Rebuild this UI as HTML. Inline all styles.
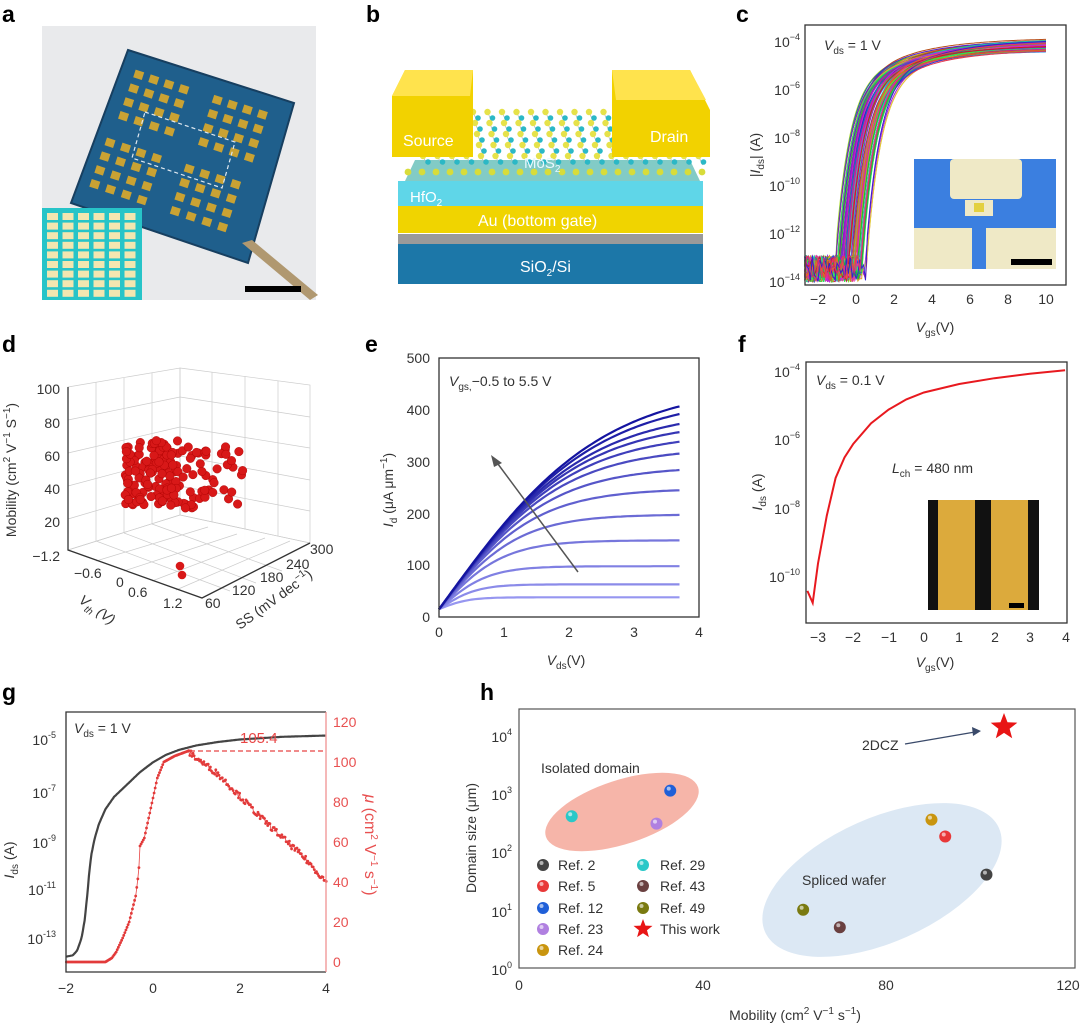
<!DOCTYPE html>
<html><head><meta charset="utf-8"><style>
body{margin:0;background:#fff}
svg{display:block;font-family:"Liberation Sans",Arial,sans-serif}
.t{font-size:14px;fill:#333}
.L{font-size:23px;font-weight:bold;fill:#000}
.ax{stroke:#333;stroke-width:1.3;fill:none}
</style></head><body>
<svg id="s" width="1080" height="1025" viewBox="0 0 1080 1025" xmlns="http://www.w3.org/2000/svg">
<text class="L" x="2" y="22">a</text><text class="L" x="366" y="22">b</text><text class="L" x="736" y="22">c</text>
<text class="L" x="2" y="352">d</text><text class="L" x="365" y="352">e</text><text class="L" x="738" y="352">f</text>
<text class="L" x="2" y="700">g</text><text class="L" x="480" y="700">h</text>

<!-- panel a -->
<rect x="42" y="26" width="274" height="274" fill="#e9eaec"/>
<polygon points="128,50 294,103 248,263 71,203" fill="#1f5f8c"/>
<polygon points="128,50 294,103 248,263 71,203" fill="none" stroke="#173f60" stroke-width="2"/>
<g id="apads" fill="#c9a233"></g>
<polygon points="145,112 235,142 222,188 132,158" fill="none" stroke="#dfe8f0" stroke-width="1.2" stroke-dasharray="4,3"/>
<polygon points="242,243 252,240 318,295 310,300" fill="#b09870"/>
<rect x="42" y="208" width="100" height="92" fill="#27c4c8"/>
<g id="ainset" fill="#f3e6b0"></g>
<rect x="245" y="286" width="56" height="6" fill="#000"/>

<!-- panel b -->
<rect x="398" y="244" width="305" height="40" fill="#1c77a8"/>
<rect x="398" y="234" width="305" height="10" fill="#9a9a9a"/>
<rect x="398" y="206" width="305" height="27" fill="#f0d400"/>
<rect x="398" y="181" width="305" height="25" fill="#5fd6e8"/>
<polygon points="405,181 700,181 690,160 415,160" fill="#2fa8a0" opacity="0.6"/>
<g id="bdots"></g>
<polygon points="392,96 405,70 473,70 473,157 392,157" fill="#f2d200"/>
<polygon points="392,96 405,70 473,70 470,96" fill="#ffe34d"/>
<polygon points="612,70 690,70 710,110 710,157 612,157" fill="#f2d200"/>
<polygon points="612,70 690,70 706,100 616,100" fill="#ffe34d"/>
<text x="403" y="146" font-size="16" fill="#fff">Source</text>
<text x="650" y="142" font-size="16" fill="#fff">Drain</text>
<text x="524" y="168" font-size="15" fill="#e8f8ff">MoS<tspan font-size="10" dy="4">2</tspan></text>
<text x="410" y="202" font-size="15" fill="#fff">HfO<tspan font-size="10" dy="4">2</tspan></text>
<text x="478" y="226" font-size="16" fill="#fff">Au (bottom gate)</text>
<text x="520" y="272" font-size="16" fill="#fff">SiO<tspan font-size="10" dy="4">2</tspan><tspan dy="-4">/Si</tspan></text>

<!-- panel c -->
<g id="cc"></g>
<rect x="805" y="25" width="261" height="260" class="ax"/>
<g class="t" text-anchor="end" font-size="13">
<text x="800" y="47">10<tspan font-size="9" dy="-7">−4</tspan></text>
<text x="800" y="95">10<tspan font-size="9" dy="-7">−6</tspan></text>
<text x="800" y="143">10<tspan font-size="9" dy="-7">−8</tspan></text>
<text x="800" y="191">10<tspan font-size="9" dy="-7">−10</tspan></text>
<text x="800" y="239">10<tspan font-size="9" dy="-7">−12</tspan></text>
<text x="800" y="287">10<tspan font-size="9" dy="-7">−14</tspan></text>
</g>
<g class="t" text-anchor="middle">
<text x="818" y="304">−2</text><text x="856" y="304">0</text><text x="894" y="304">2</text><text x="932" y="304">4</text><text x="970" y="304">6</text><text x="1008" y="304">8</text><text x="1046" y="304">10</text>
</g>
<text class="t" x="935" y="332" text-anchor="middle" font-size="15"><tspan font-style="italic">V</tspan><tspan font-size="10" dy="4">gs</tspan><tspan dy="-4">(V)</tspan></text>
<text class="t" transform="translate(760,155) rotate(-90)" text-anchor="middle" font-size="15">|<tspan font-style="italic">I</tspan><tspan font-size="10" dy="4">ds</tspan><tspan dy="-4">| (A)</tspan></text>
<text class="t" x="824" y="50" font-size="15"><tspan font-style="italic">V</tspan><tspan font-size="10" dy="4">ds</tspan><tspan dy="-4"> = 1 V</tspan></text>
<rect x="914" y="159" width="142" height="110" fill="#3b7fe0"/>
<rect x="914" y="228" width="142" height="41" fill="#efe9c6"/>
<rect x="950" y="159" width="72" height="40" rx="4" fill="#efe9c6"/>
<rect x="965" y="200" width="28" height="16" fill="#efe9c6"/>
<rect x="974" y="203" width="10" height="9" fill="#e3d040"/>
<rect x="972" y="216" width="14" height="53" fill="#3b7fe0"/>
<rect x="1011" y="259" width="41" height="6" fill="#000"/>

<!-- panel d -->
<g stroke="#ccc" stroke-width="0.7" fill="none">
<polygon points="68,387 180,368 180,515 68,550"/><polygon points="180,368 310,385 310,543 180,515"/><polygon points="68,550 180,515 310,543 202,598"/>
<path d="M68,420 L180,397 L310,417 M68,453 L180,427 L310,448 M68,486 L180,456 L310,480 M68,519 L180,486 L310,511 M96,382 L96,541 M124,378 L124,533 M152,373 L152,524 M212,372 L212,522 M245,376 L245,529 M278,381 L278,536 M96,541 L230,591 M124,533 L256,583 M152,524 L282,571 M96,561 L208,527 M124,571 L237,534 M152,581 L265,538 M176,590 L290,541"/>
</g>
<path d="M68,387 L68,550 L202,598 L310,543" class="ax" stroke-width="1"/>
<g id="dd"></g>
<g class="t" text-anchor="end">
<text x="60" y="394">100</text><text x="60" y="428">80</text><text x="60" y="461">60</text><text x="60" y="494">40</text><text x="60" y="527">20</text><text x="60" y="561">−1.2</text>
</g>
<g class="t">
<text x="74" y="578">−0.6</text><text x="116" y="587">0</text><text x="128" y="597">0.6</text><text x="163" y="608">1.2</text>
<text x="205" y="608">60</text><text x="232" y="595">120</text><text x="260" y="582">180</text><text x="286" y="569">240</text><text x="310" y="554">300</text>
</g>
<text class="t" font-size="16" transform="translate(78,602) rotate(35)"><tspan font-style="italic">V</tspan><tspan font-size="10" font-style="italic" dy="4">th</tspan><tspan dy="-4" font-style="italic"> (V)</tspan></text>
<text class="t" font-size="16" transform="translate(240,630) rotate(-36)">SS (mV dec<tspan font-size="10" dy="-6">−1</tspan><tspan dy="6">)</tspan></text>
<text class="t" font-size="16" transform="translate(16,470) rotate(-90)" text-anchor="middle">Mobility (cm<tspan font-size="10" dy="-6">2</tspan><tspan dy="6"> V</tspan><tspan font-size="10" dy="-6">−1</tspan><tspan dy="6"> S</tspan><tspan font-size="10" dy="-6">−1</tspan><tspan dy="6">)</tspan></text>

<!-- panel e -->
<g id="ee"></g>
<rect x="439" y="358" width="260" height="259" class="ax"/>
<g class="t" text-anchor="end">
<text x="430" y="363">500</text><text x="430" y="415">400</text><text x="430" y="467">300</text><text x="430" y="519">200</text><text x="430" y="570">100</text><text x="430" y="622">0</text>
</g>
<g class="t" text-anchor="middle">
<text x="439" y="637">0</text><text x="504" y="637">1</text><text x="569" y="637">2</text><text x="634" y="637">3</text><text x="699" y="637">4</text>
</g>
<text class="t" x="566" y="665" text-anchor="middle" font-size="15"><tspan font-style="italic">V</tspan><tspan font-size="10" dy="4">ds</tspan><tspan dy="-4">(V)</tspan></text>
<text class="t" transform="translate(393,490) rotate(-90)" text-anchor="middle" font-size="15"><tspan font-style="italic">I</tspan><tspan font-size="10" dy="4">d</tspan><tspan dy="-4"> (μA μm</tspan><tspan font-size="10" dy="-6">−1</tspan><tspan dy="6">)</tspan></text>
<text class="t" x="449" y="386" font-size="15"><tspan font-style="italic">V</tspan><tspan font-size="10" dy="4">gs,</tspan><tspan dy="-4">−0.5 to 5.5 V</tspan></text>
<line x1="578" y1="572" x2="495" y2="460" stroke="#555" stroke-width="1.5"/>
<polygon points="491,455 502,463 494,467" fill="#555"/>

<!-- panel f -->
<path id="ff" fill="none" stroke="#e8191f" stroke-width="2"/>
<rect x="806" y="362" width="261" height="261" class="ax"/>
<g class="t" text-anchor="end" font-size="13">
<text x="800" y="377">10<tspan font-size="9" dy="-7">−4</tspan></text>
<text x="800" y="445">10<tspan font-size="9" dy="-7">−6</tspan></text>
<text x="800" y="514">10<tspan font-size="9" dy="-7">−8</tspan></text>
<text x="800" y="582">10<tspan font-size="9" dy="-7">−10</tspan></text>
</g>
<g class="t" text-anchor="middle">
<text x="818" y="642">−3</text><text x="853" y="642">−2</text><text x="889" y="642">−1</text><text x="924" y="642">0</text><text x="959" y="642">1</text><text x="995" y="642">2</text><text x="1030" y="642">3</text><text x="1066" y="642">4</text>
</g>
<text class="t" x="935" y="667" text-anchor="middle" font-size="15"><tspan font-style="italic">V</tspan><tspan font-size="10" dy="4">gs</tspan><tspan dy="-4">(V)</tspan></text>
<text class="t" transform="translate(762,492) rotate(-90)" text-anchor="middle" font-size="15"><tspan font-style="italic">I</tspan><tspan font-size="10" dy="4">ds</tspan><tspan dy="-4"> (A)</tspan></text>
<text class="t" x="816" y="385" font-size="15"><tspan font-style="italic">V</tspan><tspan font-size="10" dy="4">ds</tspan><tspan dy="-4"> = 0.1 V</tspan></text>
<text class="t" x="892" y="473" font-size="15"><tspan font-style="italic">L</tspan><tspan font-size="10" dy="4">ch</tspan><tspan dy="-4"> = 480 nm</tspan></text>
<rect x="928" y="500" width="111" height="110" fill="#111"/>
<rect x="938" y="500" width="37" height="110" fill="#dcaa3c"/>
<rect x="991" y="500" width="37" height="110" fill="#dcaa3c"/>
<rect x="1009" y="603" width="15" height="5" fill="#000"/>

<!-- panel g -->
<path id="gk" fill="none" stroke="#444" stroke-width="2.2"/>
<path id="gr" fill="none" stroke="#e84545" stroke-width="0.8"/>
<g id="grd" fill="#e23a3a"></g>
<line x1="190" y1="751" x2="326" y2="751" stroke="#e84545" stroke-width="1.3" stroke-dasharray="5,3"/>
<text x="240" y="743" font-size="15" fill="#e84545">105.4</text>
<path d="M326,712 L66,712 L66,972 L326,972" class="ax"/>
<line x1="326" y1="712" x2="326" y2="972" stroke="#e88" stroke-width="1.2"/>
<g class="t" text-anchor="end">
<text x="56" y="745">10<tspan font-size="9" dy="-7">-5</tspan></text>
<text x="56" y="798">10<tspan font-size="9" dy="-7">-7</tspan></text>
<text x="56" y="848">10<tspan font-size="9" dy="-7">-9</tspan></text>
<text x="56" y="895">10<tspan font-size="9" dy="-7">-11</tspan></text>
<text x="56" y="944">10<tspan font-size="9" dy="-7">-13</tspan></text>
</g>
<g font-size="14">
<text x="333" y="727" fill="#e85050">120</text><text x="333" y="767" fill="#e85050">100</text><text x="333" y="807" fill="#e85050">80</text><text x="333" y="847" fill="#e85050">60</text><text x="333" y="887" fill="#e85050">40</text><text x="333" y="927" fill="#e85050">20</text><text x="333" y="967" fill="#e85050">0</text>
</g>
<g class="t" text-anchor="middle">
<text x="66" y="993">−2</text><text x="153" y="993">0</text><text x="240" y="993">2</text><text x="326" y="993">4</text>
</g>
<text class="t" transform="translate(14,860) rotate(-90)" text-anchor="middle" font-size="15"><tspan font-style="italic">I</tspan><tspan font-size="10" dy="4">ds</tspan><tspan dy="-4"> (A)</tspan></text>
<text transform="translate(365,845) rotate(90)" text-anchor="middle" font-size="16" fill="#e85050"><tspan font-style="italic">μ</tspan> (cm<tspan font-size="10" dy="-6">2</tspan><tspan dy="6"> V</tspan><tspan font-size="10" dy="-6">−1</tspan><tspan dy="6"> s</tspan><tspan font-size="10" dy="-6">−1</tspan><tspan dy="6">)</tspan></text>
<text class="t" x="74" y="733" font-size="15"><tspan font-style="italic">V</tspan><tspan font-size="10" dy="4">ds</tspan><tspan dy="-4"> = 1 V</tspan></text>

<!-- panel h -->
<ellipse cx="622" cy="812" rx="80" ry="32" transform="rotate(-18 622 812)" fill="#f4a89a" opacity="0.85"/>
<ellipse cx="882" cy="880" rx="128" ry="62" transform="rotate(-24 882 880)" fill="#dce8f4"/>
<rect x="519" y="709" width="556" height="259" fill="none" stroke="#555" stroke-width="1.2"/>
<g id="hh"></g>
<g class="t" text-anchor="end">
<text x="512" y="742">10<tspan font-size="9" dy="-7">4</tspan></text>
<text x="512" y="800">10<tspan font-size="9" dy="-7">3</tspan></text>
<text x="512" y="858">10<tspan font-size="9" dy="-7">2</tspan></text>
<text x="512" y="917">10<tspan font-size="9" dy="-7">1</tspan></text>
<text x="512" y="975">10<tspan font-size="9" dy="-7">0</tspan></text>
</g>
<g class="t" text-anchor="middle">
<text x="519" y="990">0</text><text x="703" y="990">40</text><text x="886" y="990">80</text><text x="1068" y="990">120</text>
</g>
<text class="t" x="795" y="1020" text-anchor="middle" font-size="15">Mobility (cm<tspan font-size="10" dy="-6">2</tspan><tspan dy="6"> V</tspan><tspan font-size="10" dy="-6">−1</tspan><tspan dy="6"> s</tspan><tspan font-size="10" dy="-6">−1</tspan><tspan dy="6">)</tspan></text>
<text class="t" transform="translate(476,838) rotate(-90)" text-anchor="middle" font-size="15">Domain size (μm)</text>
<text class="t" x="541" y="773" font-size="15">Isolated domain</text>
<text class="t" x="802" y="885" font-size="15">Spliced wafer</text>
<text class="t" x="862" y="750" font-size="15">2DCZ</text>
<line x1="905" y1="744" x2="975" y2="732" stroke="#3a4a6a" stroke-width="1.3"/>
<polygon points="981,731 972,727 973,736" fill="#3a4a6a"/>
<g class="t" font-size="14">
<text x="558" y="870">Ref. 2</text><text x="558" y="891">Ref. 5</text><text x="558" y="913">Ref. 12</text><text x="558" y="934">Ref. 23</text><text x="558" y="955">Ref. 24</text>
<text x="660" y="870">Ref. 29</text><text x="660" y="891">Ref. 43</text><text x="660" y="913">Ref. 49</text><text x="660" y="934">This work</text>
</g>
</svg>
<script>
(function(){
var NS='http://www.w3.org/2000/svg';
function el(p,t,a){var e=document.createElementNS(NS,t);for(var k in a)e.setAttribute(k,a[k]);p.appendChild(e);return e;}
var seed=7;function rnd(){seed=(seed*16807)%2147483647;return seed/2147483647;}
var ap=document.getElementById('apads');
function mapA(u,v){var A=[128,50],B=[294,103],D=[71,203],C=[248,263];
 var x=A[0]*(1-u)*(1-v)+B[0]*u*(1-v)+D[0]*(1-u)*v+C[0]*u*v,y=A[1]*(1-u)*(1-v)+B[1]*u*(1-v)+D[1]*(1-u)*v+C[1]*u*v;return [x,y];}
[[0.08,0.1],[0.55,0.1],[0.06,0.55],[0.52,0.55]].forEach(function(q){for(var i=0;i<4;i++)for(var j=0;j<4;j++){var p=mapA(q[0]+i*0.09,q[1]+j*0.09);el(ap,'rect',{x:p[0],y:p[1],width:9,height:8,transform:'rotate(18 '+p[0]+' '+p[1]+')'});}});
var ai=document.getElementById('ainset');
for(var i=0;i<6;i++)for(var j=0;j<9;j++)el(ai,'rect',{x:47+i*15.5,y:213+j*9.6,width:11,height:7});
var bd=document.getElementById('bdots');
for(var r=0;r<5;r++)for(var c=0;c<20;c++){var x=415+c*14.5+r*2,y=112+r*11;
 el(bd,'line',{x1:x,y1:y,x2:x+4,y2:y+9,stroke:'#bbb','stroke-width':0.8});
 el(bd,'circle',{cx:x,cy:y,r:3.2,fill:'#e6e24a'});el(bd,'circle',{cx:x+5,cy:y+6,r:2.8,fill:'#2bb8c6'});}
for(var c=0;c<22;c++){el(bd,'circle',{cx:408+c*14,cy:172,r:3.4,fill:'#d8dc3a'});}
var cc=document.getElementById('cc');
for(var n=0;n<90;n++){var vt=-1.1+rnd()*1.7,a1=6.6+rnd()*0.3,a2=2.0+rnd()*0.3,d='';
 var col='hsl('+Math.floor(rnd()*360)+',75%,'+(40+rnd()*15)+'%)';
 for(var V=-2.7;V<=10;V+=0.1){var L;if(V<vt){L=-12.9-rnd()*1.1;}else{var u=V-vt;L=-13+a1*(1-Math.exp(-u/0.7))+a2*(1-Math.exp(-u/3));}
  if(L<-14)L=-14;var x=856+V*19,y=42+(-4-L)*24;d+=(d?'L':'M')+x.toFixed(1)+','+y.toFixed(1);}
 el(cc,'path',{d:d,stroke:col,'stroke-width':1,fill:'none'});}
var dd=document.getElementById('dd');
for(var n=0;n<170;n++){var x,y;if(rnd()<0.65){x=125+rnd()*55;y=440+rnd()*65;}else{x=170+rnd()*75;y=445+rnd()*65;}
 el(dd,'circle',{cx:x,cy:y,r:4.3,fill:'#d81818',stroke:'#a00',"stroke-width":0.4});}
el(dd,'circle',{cx:182,cy:575,r:4.3,fill:'#d81818'});el(dd,'circle',{cx:180,cy:566,r:4.3,fill:'#d81818'});
var ee=document.getElementById('ee');var sat=[30,55,90,140,190,240,283,320,348,372,393,420,442];
sat.forEach(function(I,k){var vs=0.3+I/200,d='';for(var V=0;V<=3.7;V+=0.05){var v=15+(I+8-15)*Math.tanh(V/vs);d+=(d?'L':'M')+(439+V*65).toFixed(1)+','+(617-v*0.518).toFixed(1);}
 var t=k/12;var col='rgb('+Math.round(150-130*t)+','+Math.round(150-130*t)+','+Math.round(240-80*t)+')';
 el(ee,'path',{d:d,stroke:col,'stroke-width':2.2,fill:'none'});});
var fp=[[-3.3,-10.4],[-3.15,-10.75],[-3.0,-9.6],[-2.75,-8.2],[-2.5,-7.1],[-2.25,-6.5],[-2,-6.1],[-1.5,-5.5],[-1,-5.1],[-0.5,-4.8],[0,-4.6],[1,-4.35],[2,-4.18],[3,-4.05],[4,-3.95]];
var d='';fp.forEach(function(p){d+=(d?'L':'M')+(818+(p[0]+3)*35.3).toFixed(1)+','+(372+(-4-p[1])*34.2).toFixed(1);});
document.getElementById('ff').setAttribute('d',d);
function interp(P,x){for(var i=1;i<P.length;i++)if(x<=P[i][0]){var a=P[i-1],b=P[i],t=(x-a[0])/(b[0]-a[0]);return a[1]+t*(b[1]-a[1]);}return P[P.length-1][1];}
var gk=[[-2,-13.75],[-1.85,-13.7],[-1.75,-13.5],[-1.65,-13.0],[-1.58,-12.3],[-1.52,-11.3],[-1.47,-10.3],[-1.42,-9.6],[-1.35,-9.0],[-1.25,-8.4],[-1.1,-7.8],[-0.9,-7.3],[-0.6,-6.8],[-0.3,-6.3],[0,-5.9],[0.3,-5.6],[0.6,-5.4],[1,-5.22],[1.5,-5.08],[2,-4.98],[3,-4.87],[4,-4.82]];
d='';for(var V=-2;V<=4;V+=0.02){d+=(d?'L':'M')+(153+V*43.3).toFixed(1)+','+(740+(-5-interp(gk,V))*24.75).toFixed(1);}
document.getElementById('gk').setAttribute('d',d);
var gm=[[-2,0],[-1.1,0],[-0.95,2],[-0.85,5],[-0.7,12],[-0.55,20],[-0.4,33],[-0.33,45],[-0.3,58],[-0.2,62],[-0.1,72],[0,82],[0.1,92],[0.25,100],[0.5,103],[0.8,105.4],[1.0,102],[1.5,94],[2.5,72],[3.5,52],[4,40]];
d='';var gr=document.getElementById('grd');
for(var V=-2;V<=4;V+=0.025){var m=interp(gm,V);if(V>0.8)m+=(rnd()-0.5)*3;var x=153+V*43.3,y=962-m*2;d+=(d?'L':'M')+x.toFixed(1)+','+y.toFixed(1);el(gr,'circle',{cx:x,cy:y,r:1.4});}
document.getElementById('gr').setAttribute('d',d);
var hh=document.getElementById('hh');
function hx(m){return 519+m*4.583;}function hy(s){return 968-Math.log10(s)*58.3;}
function ball(p,x,y,c){el(p,'circle',{cx:x,cy:y,r:6,fill:c});el(p,'circle',{cx:x-1.5,cy:y-2,r:2,fill:'#fff',opacity:0.6});}
var pts=[[11.5,400,'#2ac8c8'],[33,1100,'#1f5fd8'],[30,300,'#b080e0'],[90,350,'#c9950f'],[93,180,'#e83838'],[102,40,'#444'],[62,10,'#7a7a10'],[70,5,'#6a4040']];
pts.forEach(function(p){ball(hh,hx(p[0]),hy(p[1]),p[2]);});
function star(x,y,R,c){var d='';for(var i=0;i<10;i++){var r=i%2?R*0.42:R,a=-Math.PI/2+i*Math.PI/5;d+=(i?'L':'M')+(x+r*Math.cos(a)).toFixed(1)+','+(y+r*Math.sin(a)).toFixed(1);}el(hh,'path',{d:d+'Z',fill:c});}
star(1004,727,14,'#e81515');
[['#444',865],['#e83838',886],['#1f5fd8',908],['#b080e0',929],['#c9950f',950]].forEach(function(p){ball(hh,543,p[1],p[0]);});
[['#2ac8c8',865],['#6a4040',886],['#7a7a10',908]].forEach(function(p){ball(hh,643,p[1],p[0]);});
star(643,929,10,'#e81515');
})();
</script>
</body></html>
